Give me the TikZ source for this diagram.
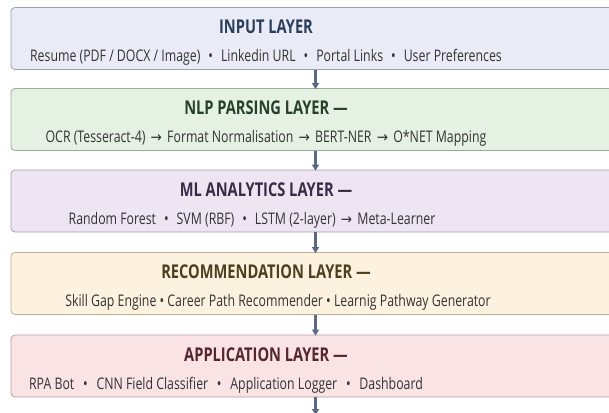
\documentclass[tikz,border=0pt]{standalone}
\usepackage{fontspec}
\setmainfont{Open Sans}[FakeStretch=0.77]
\newfontfamily\arrfont{DejaVu Sans}[FakeStretch=0.9]
\usetikzlibrary{arrows.meta}

\definecolor{inFill}{HTML}{E9ECF6}
\definecolor{inLine}{HTML}{9AA1B3}
\definecolor{inText}{HTML}{2C3D5B}
\definecolor{nlpFill}{HTML}{E5F1E2}
\definecolor{nlpLine}{HTML}{97AD97}
\definecolor{nlpText}{HTML}{27402A}
\definecolor{mlFill}{HTML}{EEE5F3}
\definecolor{mlLine}{HTML}{A79DB0}
\definecolor{mlText}{HTML}{372C45}
\definecolor{recFill}{HTML}{FDF2E0}
\definecolor{recLine}{HTML}{BDAE8E}
\definecolor{recText}{HTML}{4D3F1E}
\definecolor{appFill}{HTML}{FAE3E5}
\definecolor{appLine}{HTML}{B99DA0}
\definecolor{appText}{HTML}{55262C}
\definecolor{flowArrow}{HTML}{5B6A82}

\newcommand{\rarr}{\hspace{2pt}{\arrfont\fontsize{15}{17}\selectfont →}\hspace{2pt}}
\newcommand{\dotsep}{\enspace\textbullet\enspace}
\newcommand{\widesep}{\hspace{0.55em}\textbullet\hspace{0.55em}}

% name, y, fill, line, title colour, title, items, items x
\newcommand{\drawLayer}[8]{
  \node[layer, fill=#3, draw=#4] (#1) at (315.5,#2) {};
  \node[layertitle, text=#5] (#1Title) at (266,#2-5) {#6};
  \node[layeritems] (#1Items) at (#8,#2+23) {#7};
}

\begin{document}
\begin{tikzpicture}[x=1pt, y=-1pt,
  layer/.style={rectangle, rounded corners=4pt, line width=0.8pt,
    minimum width=609pt, minimum height=62pt, inner sep=0pt},
  layertitle/.style={anchor=base, font=\bfseries\fontsize{19}{22}\selectfont, inner sep=0pt},
  layeritems/.style={anchor=base, font=\fontsize{16}{19}\selectfont, text=black!80, inner sep=0pt},
  flow/.style={-{Triangle[length=6pt, width=7pt]}, line width=2.6pt, draw=flowArrow, shorten >=-1pt}]
  \clip (0,0) rectangle (609,412);
  \fill[white] (0,0) rectangle (609,412);

  % Layers
  \drawLayer{input}{38.5}{inFill}{inLine}{inText}{INPUT LAYER}
    {Resume (PDF / DOCX / Image)\dotsep Linkedin URL\dotsep Portal Links\dotsep User Preferences}{266}
  \drawLayer{nlp}{119.5}{nlpFill}{nlpLine}{nlpText}{NLP PARSING LAYER —}
    {OCR (Tesseract-4) \rarr{} Format Normalisation \rarr{} BERT-NER \rarr{} O*NET Mapping}{266}
  \drawLayer{ml}{201}{mlFill}{mlLine}{mlText}{ML ANALYTICS LAYER —}
    {Random Forest\dotsep SVM (RBF)\dotsep LSTM (2-layer) \rarr{} Meta-Learner}{252}
  \drawLayer{rec}{283.5}{recFill}{recLine}{recText}{RECOMMENDATION LAYER —}
    {Skill Gap Engine \textbullet{} Career Path Recommender \textbullet{} Learnig Pathway Generator}{278}
  \drawLayer{app}{366}{appFill}{appLine}{appText}{APPLICATION LAYER —}
    {RPA Bot\widesep CNN Field Classifier\widesep Application Logger\widesep Dashboard}{226}

  % Arrows
  \coordinate (out) at (315.5,414);
  \draw[flow] (input.south) -- (nlp.north);
  \draw[flow] (nlp.south) -- (ml.north);
  \draw[flow] (ml.south) -- (rec.north);
  \draw[flow] (rec.south) -- (app.north);
  \draw[flow] (app.south) -- (out);
\end{tikzpicture}
\end{document}
